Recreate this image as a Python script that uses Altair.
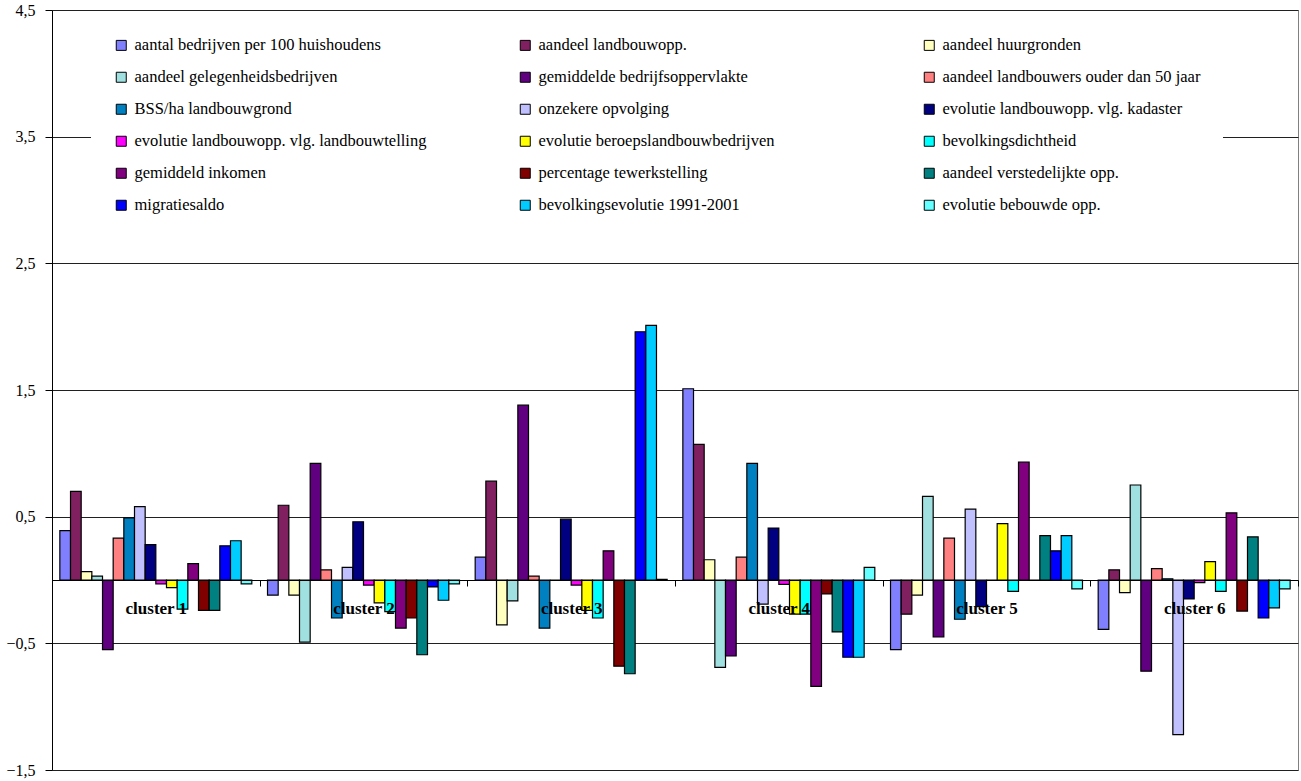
import altair as alt
import pandas as pd

clusters = ["cluster 1", "cluster 2", "cluster 3", "cluster 4", "cluster 5", "cluster 6"]

series = [
    "aantal bedrijven per 100 huishoudens",
    "aandeel landbouwopp.",
    "aandeel huurgronden",
    "aandeel gelegenheidsbedrijven",
    "gemiddelde bedrijfsoppervlakte",
    "aandeel landbouwers ouder dan 50 jaar",
    "BSS/ha landbouwgrond",
    "onzekere opvolging",
    "evolutie landbouwopp. vlg. kadaster",
    "evolutie landbouwopp. vlg. landbouwtelling",
    "evolutie beroepslandbouwbedrijven",
    "bevolkingsdichtheid",
    "gemiddeld inkomen",
    "percentage tewerkstelling",
    "aandeel verstedelijkte opp.",
    "migratiesaldo",
    "bevolkingsevolutie 1991-2001",
    "evolutie bebouwde opp.",
]

colors = [
    "#8080FF", "#802060", "#FFFFC0", "#A0E0E0", "#600080", "#FF8080",
    "#0080C0", "#C0C0FF", "#000080", "#FF00FF", "#FFFF00", "#00FFFF",
    "#800080", "#800000", "#008080", "#0000FF", "#00CCFF", "#66FFFF",
]

cluster_1 = [0.39, 0.70, 0.066, 0.03, -0.55, 0.33, 0.49, 0.58, 0.28,
             -0.03, -0.06, -0.23, 0.13, -0.24, -0.24, 0.27, 0.31, -0.03]
cluster_2 = [-0.12, 0.59, -0.12, -0.49, 0.92, 0.08, -0.30, 0.10, 0.46,
             -0.04, -0.18, -0.25, -0.38, -0.30, -0.59, -0.055, -0.16, -0.03]
cluster_3 = [0.18, 0.78, -0.355, -0.165, 1.38, 0.03, -0.38, 0.0, 0.48,
             -0.04, -0.24, -0.30, 0.23, -0.68, -0.74, 1.96, 2.01, 0.005]
cluster_4 = [1.51, 1.07, 0.16, -0.69, -0.60, 0.18, 0.92, -0.19, 0.41,
             -0.035, -0.27, -0.27, -0.84, -0.11, -0.41, -0.61, -0.61, 0.10]
cluster_5 = [-0.55, -0.27, -0.12, 0.66, -0.45, 0.33, -0.31, 0.56, -0.21,
             0.0, 0.445, -0.09, 0.93, 0.0, 0.35, 0.23, 0.35, -0.07]
cluster_6 = [-0.39, 0.08, -0.10, 0.75, -0.72, 0.09, 0.01, -1.22, -0.15,
             -0.02, 0.145, -0.09, 0.53, -0.245, 0.34, -0.30, -0.22, -0.07]

all_values = [cluster_1, cluster_2, cluster_3, cluster_4, cluster_5, cluster_6]

y_ticks = [-1.5, -0.5, 0.5, 1.5, 2.5, 3.5, 4.5]

FONT = "Liberation Serif, Times New Roman, serif"

rows = []
for c, vals in zip(clusters, all_values):
    for s, v in zip(series, vals):
        rows.append({"cluster": c, "series": s, "value": v})
df = pd.DataFrame(rows)

chart = (
    alt.Chart(df)
    .mark_bar(stroke="black", strokeWidth=1.2, strokeOpacity=1)
    .encode(
        x=alt.X(
            "cluster:N",
            sort=clusters,
            title=None,
            scale=alt.Scale(paddingInner=0, paddingOuter=0),
            axis=alt.Axis(
                orient="bottom",
                offset=-190,
                labelAngle=0,
                tickBand="extent",
                domainColor="black",
                domainWidth=1,
                tickColor="black",
                tickSize=6,
                labelFont=FONT,
                labelFontSize=17,
                labelFontWeight="bold",
                labelColor="black",
                labelPadding=14,
                zindex=2,
            ),
        ),
        xOffset=alt.XOffset(
            "series:N",
            sort=series,
            scale=alt.Scale(paddingInner=0, paddingOuter=0.736),
        ),
        y=alt.Y(
            "value:Q",
            title=None,
            stack=None,
            scale=alt.Scale(domain=[-1.5, 4.5], nice=False, zero=False),
            axis=alt.Axis(
                values=y_ticks,
                labelExpr="replace(format(datum.value, '.1f'), '.', ',')",
                grid=True,
                gridColor="#202020",
                gridWidth=1,
                domainColor="black",
                domainWidth=1,
                tickColor="black",
                tickSize=7,
                labelFont=FONT,
                labelFontSize=16,
                labelColor="black",
                labelPadding=10,
                zindex=0,
            ),
        ),
        color=alt.Color(
            "series:N",
            sort=series,
            scale=alt.Scale(domain=series, range=colors),
            legend=alt.Legend(
                title=None,
                orient="none",
                direction="horizontal",
                legendX=39,
                legendY=5,
                columns=3,
                gridAlign="all",
                columnPadding=90,
                rowPadding=15,
                symbolType="square",
                symbolSize=100,
                symbolStrokeColor="black",
                symbolStrokeWidth=1,
                labelFont=FONT,
                labelFontSize=16.5,
                labelColor="black",
                labelLimit=500,
                labelOffset=5,
                fillColor="white",
                padding=22,
            ),
        ),
    )
    .properties(
        width=1246,
        height=760,
        autosize=alt.AutoSizeParams(type="none"),
        padding={"left": 52, "top": 10, "right": 3, "bottom": 11},
        background="white",
    )
    .configure_view(stroke="#808080", strokeWidth=1)
)

chart.save("out.html", embed_options={"renderer": "svg", "actions": False})
